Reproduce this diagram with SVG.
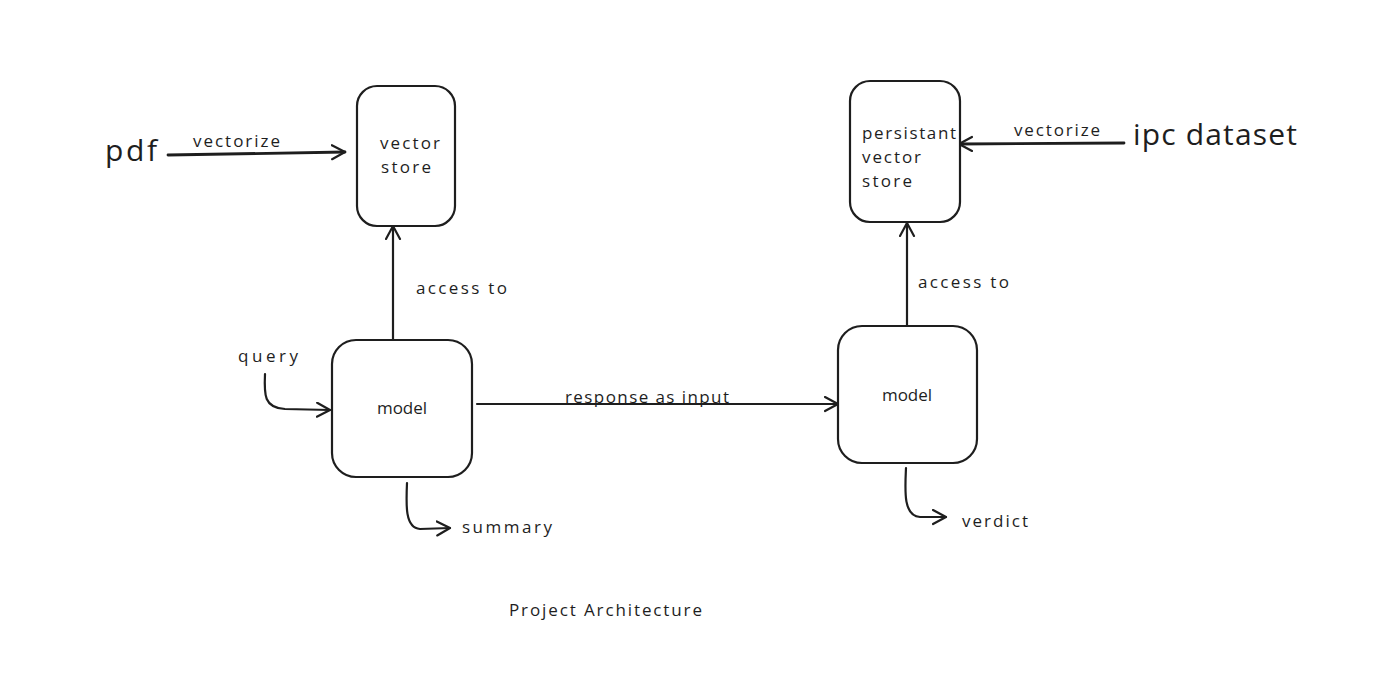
<svg xmlns="http://www.w3.org/2000/svg" width="1394" height="675" viewBox="0 0 1394 675">
<defs>
<marker id="ah" markerWidth="20" markerHeight="20" refX="14" refY="8" orient="auto" markerUnits="userSpaceOnUse">
<path d="M1,1 L14,8 L1,15" fill="none" stroke="#1e1e1e" stroke-width="2.2" stroke-linecap="round" stroke-linejoin="round"/>
</marker>
</defs>
<style>
.box{fill:#fff;stroke:#1e1e1e;stroke-width:2.2}
.ln{fill:none;stroke:#1e1e1e;stroke-width:2.2;stroke-linecap:round}
.th{stroke-width:2.8}
text{font-family:"Open Sans","Liberation Sans",sans-serif;fill:#1e1e1e}
.s{font-size:17px}
.b{font-size:30px}
</style>
<rect width="1394" height="675" fill="#fff"/>
<g id="connectors">
<path class="ln th" d="M168,155 L345,152" marker-end="url(#ah)"/>
<path class="ln th" d="M1124,143 L959,144" marker-end="url(#ah)"/>
<path class="ln" d="M393,340 L393,226" marker-end="url(#ah)"/>
<path class="ln" d="M907,326 L907,223" marker-end="url(#ah)"/>
<path class="ln" d="M265,374 C264,395 264,408 285,409 L330,410" marker-end="url(#ah)"/>
<path class="ln" d="M477,404 L838,404" marker-end="url(#ah)"/>
<path class="ln" d="M407,483 C406,505 405,528 420,529 L450,528" marker-end="url(#ah)"/>
<path class="ln" d="M906,468 C905,490 903,516 920,517 L946,517" marker-end="url(#ah)"/>
<text class="s" x="193" y="147" textLength="87">vectorize</text>
<text class="s" x="1014" y="136" textLength="86">vectorize</text>
<text class="s" x="416" y="294" textLength="91">access to</text>
<text class="s" x="918" y="288" textLength="91">access to</text>
<text class="s" x="565" y="403" textLength="164">response as input</text>
</g>
<g id="vector-store">
<rect class="box" x="357" y="86" width="98" height="140" rx="20"/>
<text class="s" x="380" y="149" textLength="60">vector</text>
<text class="s" x="381" y="173" textLength="50">store</text>
</g>
<g id="persistant-vector-store">
<rect class="box" x="850" y="81" width="110" height="141" rx="20"/>
<text class="s" x="862" y="139" textLength="94">persistant</text>
<text class="s" x="862" y="163" textLength="59">vector</text>
<text class="s" x="862" y="187" textLength="50">store</text>
</g>
<g id="model-1">
<rect class="box" x="332" y="340" width="140" height="137" rx="24"/>
<text class="s" x="377" y="414" textLength="50">model</text>
</g>
<g id="model-2">
<rect class="box" x="838" y="326" width="139" height="137" rx="24"/>
<text class="s" x="882" y="401" textLength="50">model</text>
</g>
<g id="pdf">
<text class="b" x="105" y="161" textLength="52">pdf</text>
</g>
<g id="ipc-dataset">
<text class="b" x="1133" y="145" textLength="164">ipc dataset</text>
</g>
<g id="query">
<text class="s" x="238" y="362" textLength="60">query</text>
</g>
<g id="summary">
<text class="s" x="462" y="533" textLength="90">summary</text>
</g>
<g id="verdict">
<text class="s" x="962" y="527" textLength="66">verdict</text>
</g>
<g id="title">
<text class="s" x="509" y="616" textLength="193">Project Architecture</text>
</g>
</svg>
